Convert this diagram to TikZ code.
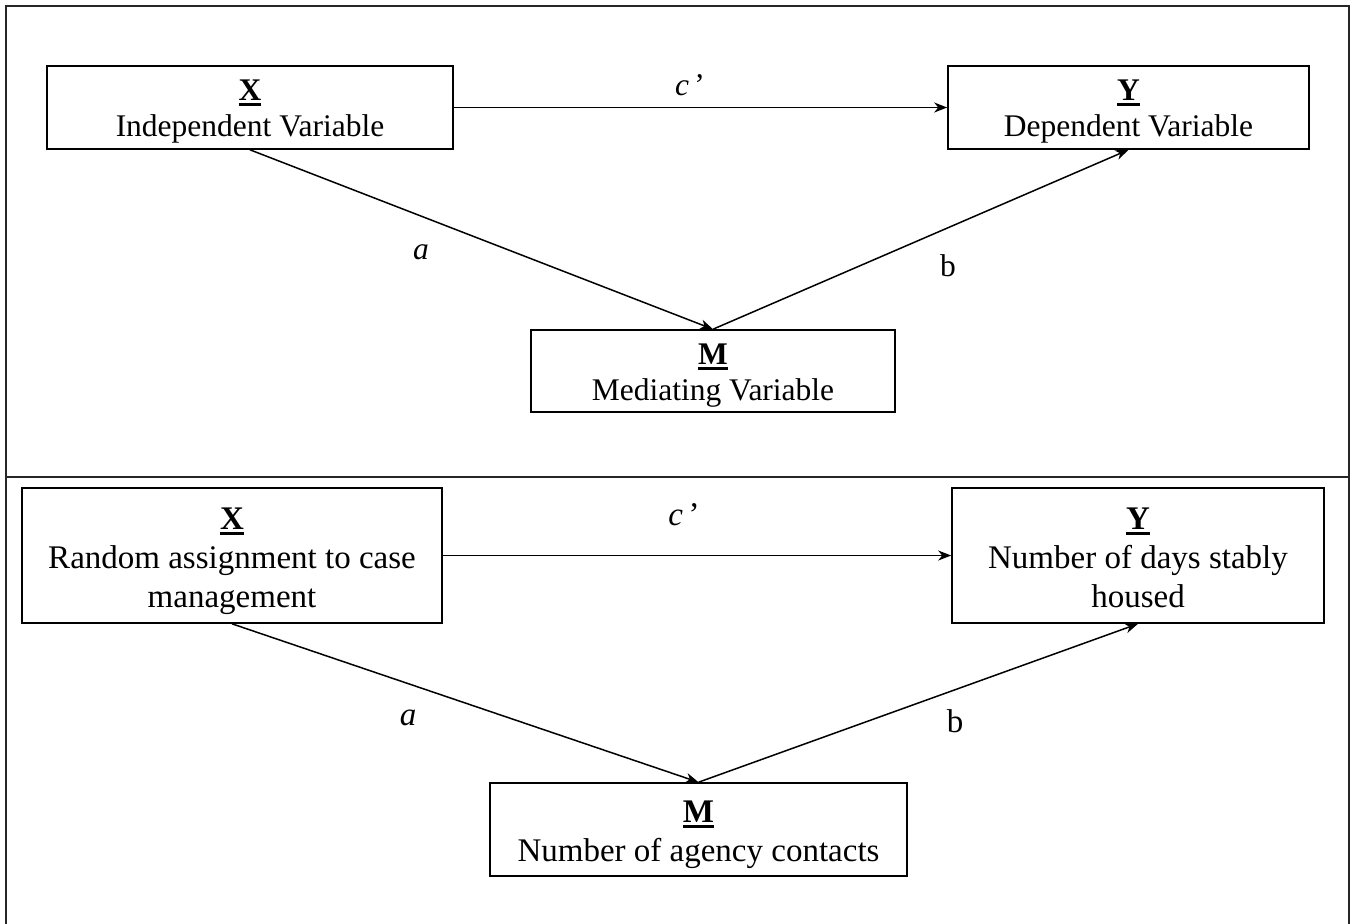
\documentclass[tikz,border=0pt]{standalone}
\usepackage{fontspec}
\setmainfont{Liberation Serif}
\usetikzlibrary{arrows.meta}
\newcommand{\ulbox}[1]{\leavevmode\vtop{\hbox{#1}\kern1.3pt\hrule height 1.2pt}}
\newcommand{\boxtext}[2]{\raisebox{-#1}[\height][\depth]{\begin{tabular}{@{}c@{}}#2\end{tabular}}}
\begin{document}
\begin{tikzpicture}[x=0.5pt,y=-0.5pt,
  frame/.style={line width=1.1pt,draw=black!85},
  varbox/.style={draw,line width=0.8pt,rectangle,inner sep=0pt,align=center,anchor=center},
  topfont/.style={font=\fontsize{15.75}{18}\selectfont},
  botfont/.style={font=\fontsize{16.5}{19.5}\selectfont},
  conn/.style={line width=0.75pt,-{Stealth[length=6.5pt,width=5pt,inset=2pt]}},
  lbl/.style={inner sep=0pt,anchor=center}]
\useasboundingbox (0,0) rectangle (1355,923);
% frame
\draw[frame] (6,935) -- (6,6) -- (1349,6) -- (1349,935);
\draw[frame] (6,477) -- (1349,477);
% top panel
\node[varbox,topfont,minimum width=203pt,minimum height=41.5pt] (xt) at (250,107.5)
  {\boxtext{2pt}{\ulbox{\textbf{X}}\\Independent Variable}};
\node[varbox,topfont,minimum width=180.5pt,minimum height=41.5pt] (yt) at (1128.5,107.5)
  {\boxtext{2pt}{\ulbox{\textbf{Y}}\\Dependent Variable}};
\node[varbox,topfont,minimum width=182pt,minimum height=41pt] (mt) at (713,371)
  {\boxtext{2.25pt}{\ulbox{\textbf{M}}\\Mediating Variable}};
\draw[conn] (xt.east) -- (yt.west);
\draw[conn] (xt.south) -- (mt.north);
\draw[conn] (mt.north) -- (yt.south);
\node[lbl,topfont] (ct) at (690,85) {\textit{c}\,’};
\node[lbl,topfont] (at) at (421,252) {\textit{a}};
\node[lbl,topfont] (bt) at (948,266) {b};
% bottom panel
\node[varbox,botfont,minimum width=210pt,minimum height=67.5pt] (xb) at (232,555.5)
  {\boxtext{2.75pt}{\ulbox{\textbf{X}}\\Random assignment to case\\management}};
\node[varbox,botfont,minimum width=186pt,minimum height=67.5pt] (yb) at (1138,555.5)
  {\boxtext{2.75pt}{\ulbox{\textbf{Y}}\\Number of days stably\\housed}};
\node[varbox,botfont,minimum width=208.5pt,minimum height=46.5pt] (mb) at (698.5,829.5)
  {\boxtext{2.5pt}{\ulbox{\textbf{M}}\\Number of agency contacts}};
\draw[conn] (xb.east) -- (yb.west);
\draw[conn] (xb.south) -- (mb.north);
\draw[conn] (mb.north) -- (yb.south);
\node[lbl,botfont] (cb) at (684,515) {\textit{c}\,’};
\node[lbl,botfont] (ab) at (408,718) {\textit{a}};
\node[lbl,botfont] (bb) at (955,721) {b};
\end{tikzpicture}
\end{document}
